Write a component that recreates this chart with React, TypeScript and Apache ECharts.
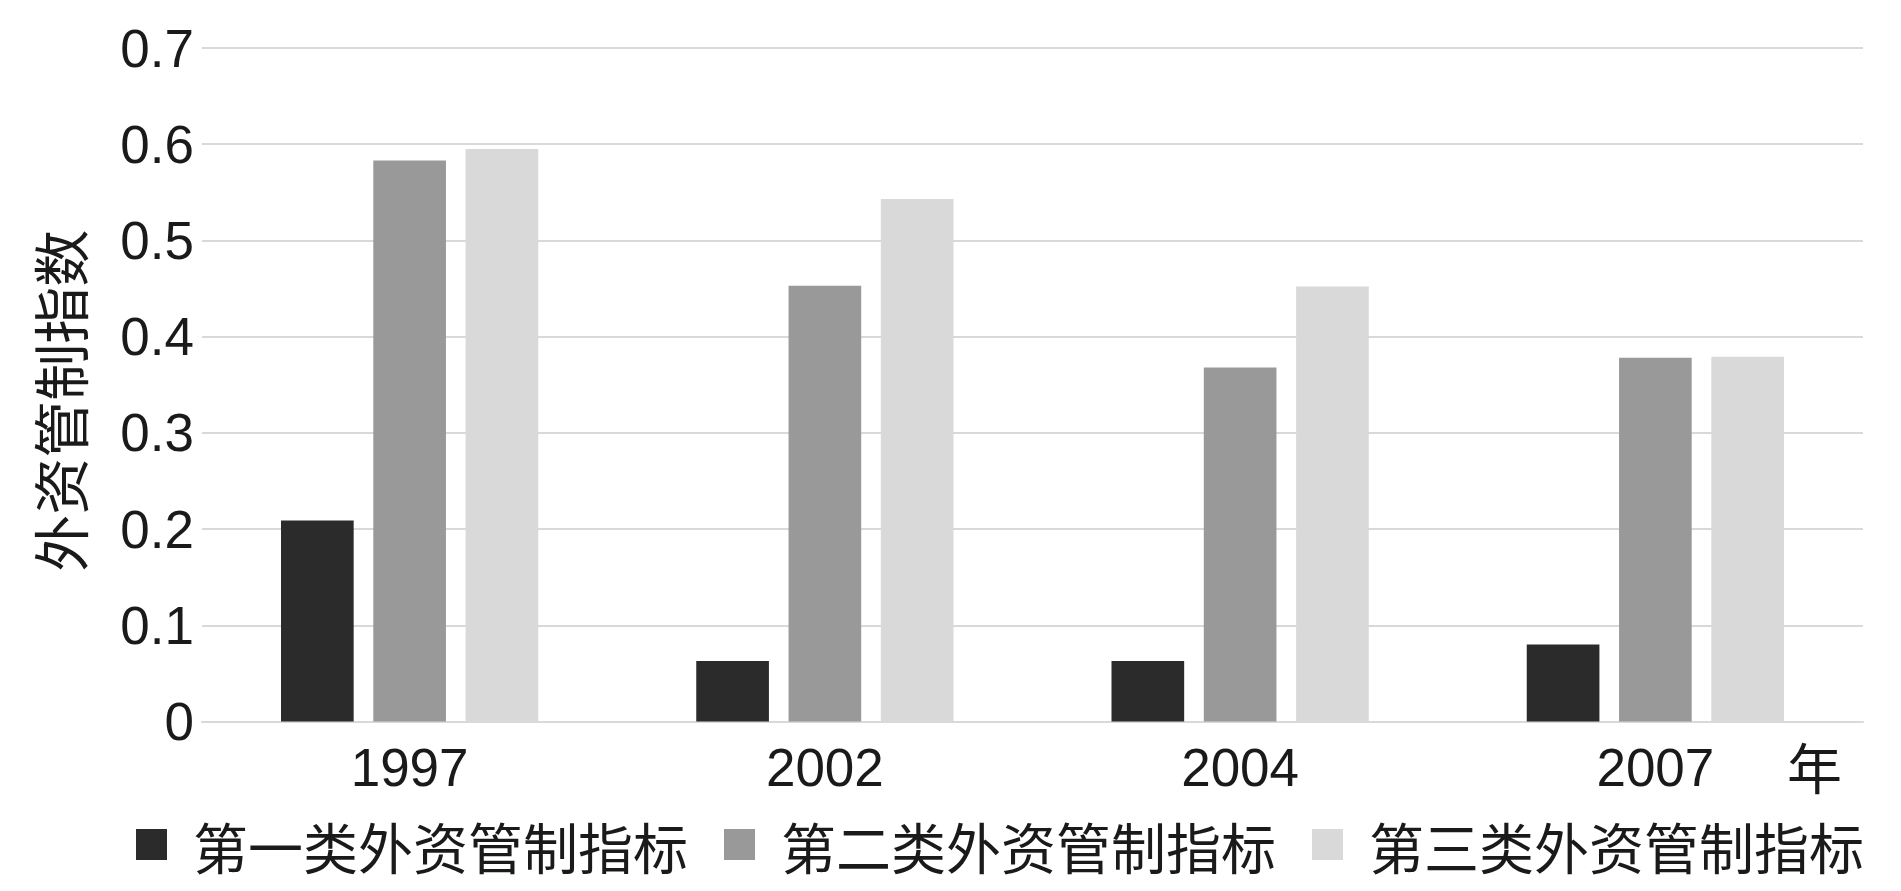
import React, { useEffect, useRef } from "react";
import * as echarts from "echarts";

const categories = ["1997", "2002", "2004", "2007"];
const seriesNames = ["第一类外资管制指标", "第二类外资管制指标", "第三类外资管制指标"];
const type1Values = [0.209, 0.063, 0.063, 0.08];
const type2Values = [0.583, 0.453, 0.368, 0.378];
const type3Values = [0.595, 0.543, 0.452, 0.379];
const seriesColors = ["#2b2b2b", "#999999", "#d9d9d9"];
const yAxisName = "外资管制指数";
const xAxisName = "年";

const NUM_FONT = "'Liberation Sans', Arial, Helvetica, sans-serif";
const CJK_FONT = "'Noto Sans CJK SC', 'Noto Sans', sans-serif";
const TEXT_COLOR = "#1a1a1a";

export default function App() {
  const ref = useRef<HTMLDivElement>(null);

  useEffect(() => {
    document.body.style.margin = "0";
    if (!ref.current) return;
    const chart = echarts.init(ref.current, undefined, { renderer: "svg" });
    const values = [type1Values, type2Values, type3Values];
    chart.setOption({
      animation: false,
      backgroundColor: "#ffffff",
      grid: { left: 202, right: 38, top: 48, bottom: 169.5, containLabel: false },
      legend: {
        left: 131,
        top: 812,
        itemWidth: 31,
        itemHeight: 31,
        itemGap: 36,
        icon: "rect",
        textStyle: {
          fontSize: 55,
          fontFamily: CJK_FONT,
          color: TEXT_COLOR,
          padding: [0, 0, 0, 21],
        },
        data: seriesNames,
      },
      xAxis: {
        type: "category",
        data: categories,
        axisTick: { show: false },
        axisLine: { show: true, lineStyle: { color: "#d9d9d9", width: 2 } },
        axisLabel: {
          fontSize: 53,
          fontFamily: NUM_FONT,
          color: TEXT_COLOR,
          margin: 19,
        },
        name: xAxisName,
        nameLocation: "end",
        nameGap: -76,
        nameTextStyle: {
          fontSize: 55,
          fontFamily: CJK_FONT,
          color: TEXT_COLOR,
          verticalAlign: "top",
          align: "left",
          padding: [16, 0, 0, 0],
        },
      },
      yAxis: {
        type: "value",
        min: 0,
        max: 0.7,
        interval: 0.1,
        axisLine: { show: false },
        axisTick: { show: false },
        splitLine: { show: true, lineStyle: { color: "#d9d9d9", width: 2 } },
        axisLabel: {
          fontSize: 53,
          fontFamily: NUM_FONT,
          color: TEXT_COLOR,
          margin: 8,
          formatter: (v: number) => (v === 0 ? "0" : v.toFixed(1)),
        },
        name: yAxisName,
        nameLocation: "middle",
        nameGap: 116,
        nameTextStyle: {
          fontSize: 57,
          fontFamily: CJK_FONT,
          color: TEXT_COLOR,
          padding: [0, 32, 0, 0],
        },
      },
      series: seriesNames.map((name, i) => ({
        name,
        type: "bar",
        data: values[i],
        barWidth: "17.5%",
        barGap: "27%",
        itemStyle: { color: seriesColors[i] },
      })),
    });
    return () => chart.dispose();
  }, []);

  return <div ref={ref} style={{ width: 1901, height: 891 }} />;
}
